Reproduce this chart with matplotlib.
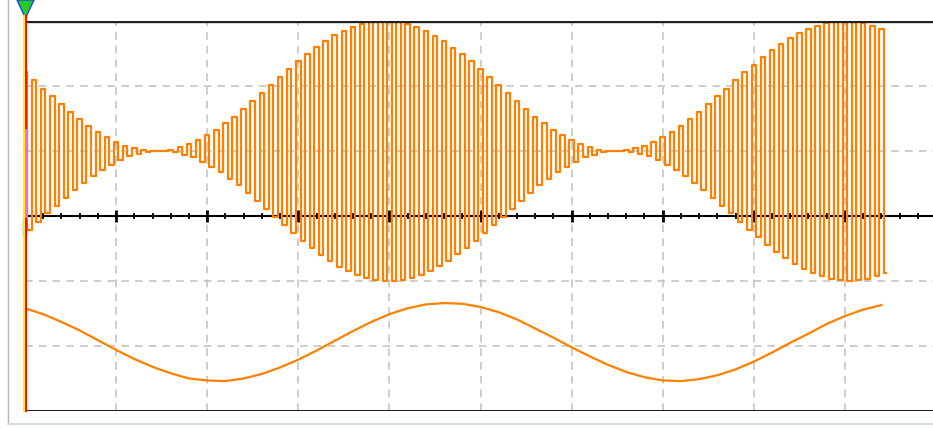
import numpy as np
import matplotlib.pyplot as plt
from matplotlib.lines import Line2D
from matplotlib.patches import Polygon, Rectangle

# AM signal: peak amplitude of every carrier cycle (divisions, around +1 div)
am_peaks = [1.21, 1.09, 0.96, 0.84, 0.72, 0.60, 0.49, 0.38, 0.29, 0.21,
            0.14, 0.08, 0.04, 0.01, 0.00, 0.00, 0.02, 0.06, 0.10, 0.17,
            0.24, 0.33, 0.43, 0.53, 0.65, 0.77, 0.89, 1.01, 1.14, 1.26,
            1.38, 1.49, 1.60, 1.69, 1.78, 1.85, 1.91, 1.95, 1.98, 2.00,
            2.00, 1.98, 1.95, 1.91, 1.85, 1.77, 1.69, 1.59, 1.49, 1.38,
            1.26, 1.14, 1.01, 0.89, 0.77, 0.65, 0.53, 0.43, 0.33, 0.24,
            0.17, 0.10, 0.06, 0.02, 0.00, 0.00, 0.01, 0.04, 0.08, 0.14,
            0.21, 0.29, 0.38, 0.49, 0.60, 0.72, 0.84, 0.96, 1.09, 1.21,
            1.33, 1.45, 1.55, 1.65, 1.74, 1.82, 1.88, 1.93, 1.97, 1.99,
            2.00, 1.99, 1.97, 1.93, 1.87]
am_offset = 1.0
carrier_period = 0.1  # div

# demodulated output, read every 0.2 div
demod_t = [round(0.2 * i, 1) for i in range(48)]
demod_v = [-1.42, -1.51, -1.63, -1.76, -1.91, -2.06, -2.20, -2.32, -2.42, -2.50,
           -2.53, -2.54, -2.50, -2.43, -2.33, -2.21, -2.07, -1.92, -1.77, -1.63,
           -1.51, -1.42, -1.36, -1.34, -1.35, -1.40, -1.48, -1.59, -1.73, -1.87,
           -2.02, -2.16, -2.29, -2.40, -2.48, -2.53, -2.54, -2.51, -2.45, -2.36,
           -2.24, -2.10, -1.95, -1.81, -1.66, -1.54, -1.44, -1.37]

W, H = 933, 428
ORANGE = '#ff8000'

def fx(x):
    return x / W

def fy(y):
    return 1 - y / H

fig = plt.figure(figsize=(W / 100, H / 100), dpi=100)
ax = fig.add_axes([fx(25), fy(411), fx(933 - 25), (411 - 21) / H])
ax.set_xlim(0, (933 - 25) / 91.1)
ax.set_ylim(-3, 3)
ax.axis('off')

# grid
for gx in range(1, 10):
    ax.axvline(gx, color='#c0c0c0', lw=1.1, ls=(0, (5, 4)), zorder=1)
for gy in [2, 1, -1, -2]:
    ax.axhline(gy, color='#c0c0c0', lw=1.1, ls=(0, (5, 4)), zorder=1)

# centre axis with ticks
ax.axhline(0, color='black', lw=1.5, zorder=2)
minor = np.arange(0.2, 10, 0.2)
ax.vlines(minor, -0.05, 0.05, color='black', lw=1.3, zorder=2)
ax.vlines(np.arange(1, 10), -0.09, 0.09, color='black', lw=2.0, zorder=2)

# top / bottom frame
ax.axhline(3, color='#202020', lw=2.4, zorder=4)
ax.axhline(-3, color='#202020', lw=2.2, zorder=4)

# AM trace
t_am = []
v_am = []
for k, a in enumerate(am_peaks):
    t_am += [k * carrier_period, k * carrier_period + carrier_period / 2]
    v_am += [am_offset + a, am_offset - a]
ax.plot(t_am, v_am, color=ORANGE, lw=1.6, drawstyle='steps-mid', zorder=3)

# demodulated trace
ax.plot(demod_t, demod_v, color=ORANGE, lw=1.6, zorder=3)

# left edge markers
fig.add_artist(Line2D([fx(8), fx(8)], [fy(0), fy(424)], color='#b8b8b8', lw=1))
fig.add_artist(Line2D([fx(8), fx(933)], [fy(424), fy(424)], color='#d8dce4', lw=1.5))
fig.add_artist(Line2D([fx(24), fx(24)], [fy(16), fy(411)], color='#ffee00', lw=1.6))
fig.add_artist(Line2D([fx(26), fx(26)], [fy(16), fy(411)], color='#ff0000', lw=1.4))
fig.add_artist(Line2D([fx(26), fx(26)], [fy(130), fy(217)], color='#ff66ff', lw=1.4))
fig.add_artist(Rectangle((fx(23), fy(235)), fx(3), (235 - 219) / H,
                         color='#1a7a1a', transform=fig.transFigure))
fig.add_artist(Polygon([(fx(17), fy(0)), (fx(34), fy(0)), (fx(25.5), fy(18))],
                       closed=True, facecolor='#22cc22', edgecolor='#2040ff',
                       lw=1, transform=fig.transFigure))

fig.savefig('out.png', dpi=100)
